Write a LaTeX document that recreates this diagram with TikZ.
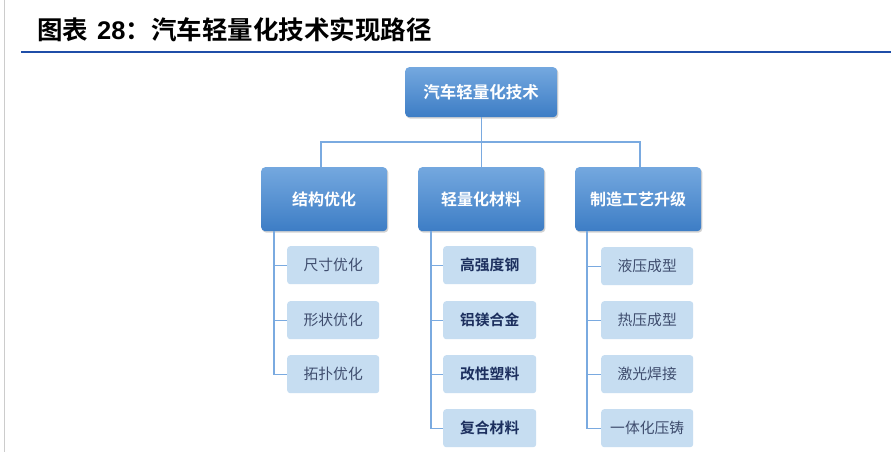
\documentclass[tikz,border=0pt]{standalone}
\usepackage{fontspec}
\setmainfont{Liberation Sans}
\newfontfamily\cjk{Noto Sans CJK SC}
\newfontfamily\cjkb{Noto Sans CJK SC Bold}
\usetikzlibrary{shadows,positioning}
\definecolor{topA}{HTML}{74A8DF}
\definecolor{topB}{HTML}{3D7DC5}
\definecolor{leaf}{HTML}{C6DDF1}
\definecolor{conn}{HTML}{7AAAE0}
\definecolor{leaftxt}{HTML}{3F4D6E}
\definecolor{leafbold}{HTML}{1C2F5E}
\definecolor{rule}{HTML}{1F4EA8}
\tikzset{
  mainbox/.style={rounded corners=4pt, top color=topA, bottom color=topB, draw=none,
    drop shadow={shadow xshift=1.2pt, shadow yshift=-1.5pt, opacity=0.35, fill=gray},
    text=white, font=\cjkb\fontsize{16}{19}\selectfont, inner sep=0pt, anchor=north west},
  leafbox/.style={rounded corners=3pt, fill=leaf, draw=none, text=leaftxt,
    font=\cjk\fontsize{14.8}{17}\selectfont, inner sep=0pt, anchor=north west,
    minimum width=92pt, minimum height=38pt},
  leafbold/.style={leafbox, text=leafbold, font=\cjkb\fontsize{14.8}{17}\selectfont},
  link/.style={draw=conn, line width=1.1pt}
}
\begin{document}
\begin{tikzpicture}[x=1pt,y=-1pt]
\useasboundingbox (0,0) rectangle (891,452);
\fill[white] (0,0) rectangle (891,452);
\draw[gray!40, line width=0.8pt] (4,0) -- (4,452);
\node[anchor=west, font=\cjkb\fontsize{25.5}{28}\selectfont, inner sep=0pt] (title) at (37,30)
  {图表\hspace{9pt}{\bfseries\rmfamily 28}：汽车轻量化技术实现路径};
\draw[rule, line width=2pt] (21,52.5) -- (891,52.5);

\node[mainbox, minimum width=152pt, minimum height=50pt, font=\cjkb\fontsize{16.5}{19}\selectfont] (root) at (405,67) {汽车轻量化技术};
\node[mainbox, minimum width=126pt, minimum height=64pt] (s) at (261,167) {结构优化};
\node[mainbox, minimum width=126pt, minimum height=64pt] (m) at (418,167) {轻量化材料};
\node[mainbox, minimum width=126pt, minimum height=64pt] (p) at (575,167) {制造工艺升级};

\coordinate (bar) at (0,142);
\coordinate (dl) at (321,167);
\coordinate (dr) at (640,167);
\draw[link] (root.south) -- (root.south |- bar);
\draw[link] (dl) -- (dl |- bar) -- (dr |- bar) -- (dr);
\draw[link] (m.north) -- (m.north |- bar);

\node[leafbox] (s1) at (287,246) {尺寸优化};
\node[leafbox] (s2) at (287,301) {形状优化};
\node[leafbox] (s3) at (287,355) {拓扑优化};

\node[leafbold, minimum width=93pt] (m1) at (443,246) {高强度钢};
\node[leafbold, minimum width=93pt] (m2) at (443,301) {铝镁合金};
\node[leafbold, minimum width=93pt] (m3) at (443,355) {改性塑料};
\node[leafbold, minimum width=93pt] (m4) at (443,409) {复合材料};

\node[leafbox] (p1) at (601,247) {液压成型};
\node[leafbox] (p2) at (601,301) {热压成型};
\node[leafbox] (p3) at (601,355) {激光焊接};
\node[leafbox] (p4) at (601,409) {一体化压铸};

\coordinate (sx) at (274,231);
\coordinate (mx) at (431,231);
\coordinate (px) at (587,231);
\draw[link] (sx) -- (sx |- s3.west) -- (s3.west);
\draw[link] (sx |- s1.west) -- (s1.west);
\draw[link] (sx |- s2.west) -- (s2.west);
\draw[link] (mx) -- (mx |- m4.west) -- (m4.west);
\foreach \n in {m1,m2,m3} \draw[link] (mx |- \n.west) -- (\n.west);
\draw[link] (px) -- (px |- p4.west) -- (p4.west);
\foreach \n in {p1,p2,p3} \draw[link] (px |- \n.west) -- (\n.west);
\end{tikzpicture}
\end{document}
